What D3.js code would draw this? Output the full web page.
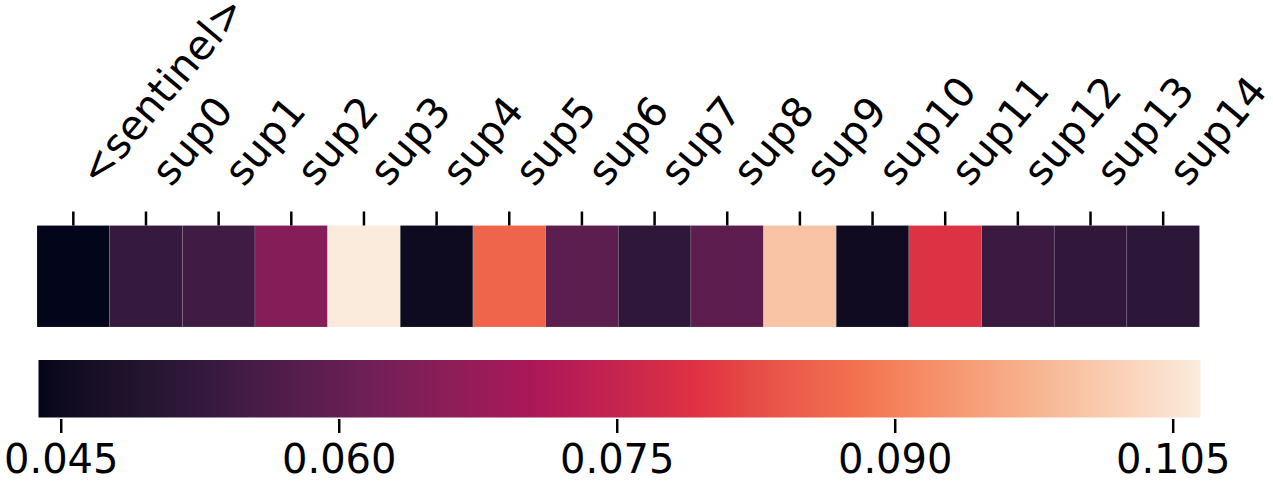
<!DOCTYPE html>
<html>
<head>
<meta charset="utf-8">
<script src="https://cdn.jsdelivr.net/npm/d3@7"></script>
<style>
  html, body { margin: 0; padding: 0; background: #fff; }
  svg text { font-family: "DejaVu Sans", sans-serif; fill: #000; }
</style>
</head>
<body>
<div id="chart"></div>
<script>
// data
const labels = ["<sentinel>", "sup0", "sup1", "sup2", "sup3", "sup4", "sup5", "sup6",
                "sup7", "sup8", "sup9", "sup10", "sup11", "sup12", "sup13", "sup14"];
const values = [0.0438, 0.0529, 0.0545, 0.0649, 0.1065, 0.0451, 0.0859, 0.0587,
                0.0515, 0.0589, 0.1001, 0.0454, 0.0789, 0.0535, 0.0520, 0.0513];
const cbarTicks = [0.045, 0.060, 0.075, 0.090, 0.105];

// seaborn "rocket" colormap, approximated by stops
const rocketPos = [0, 0.143, 0.286, 0.429, 0.571, 0.714, 0.857, 1];
const rocketCol = ["#03051a", "#35193e", "#701f57", "#ad1759", "#e13342", "#f37651", "#f6b48f", "#faebdd"];

const W = 1273, H = 484;
const svg = d3.select("#chart").append("svg")
    .attr("width", W)
    .attr("height", H);

const vmin = d3.min(values), vmax = d3.max(values);

const rocket = d3.scaleLinear()
    .domain(rocketPos)
    .range(rocketCol)
    .interpolate(d3.interpolateLab);
const color = v => rocket((v - vmin) / (vmax - vmin));

// heatmap row
const x = d3.scaleBand()
    .domain(labels)
    .range([37, 1199.5])
    .padding(0);
const hmTop = 225.5, hmBottom = 327;

svg.append("g")
  .selectAll("rect")
  .data(labels)
  .join("rect")
    .attr("x", d => x(d))
    .attr("y", hmTop)
    .attr("width", x.bandwidth())
    .attr("height", hmBottom - hmTop)
    .attr("fill", (d, i) => color(values[i]))
    .attr("stroke", "rgba(255,255,255,0.22)")
    .attr("stroke-width", 0.6);

// top axis with rotated labels
const xAxis = svg.append("g")
    .attr("transform", `translate(0,${hmTop})`)
    .call(d3.axisTop(x).tickSize(14).tickSizeOuter(0));
xAxis.select(".domain").remove();
xAxis.selectAll(".tick line").attr("stroke", "#000").attr("stroke-width", 2.5);
xAxis.selectAll(".tick text")
    .attr("font-size", 41)
    .attr("text-anchor", "start")
    .attr("x", 0).attr("y", 0).attr("dy", null)
    .attr("transform", `translate(25,${188 - hmTop}) rotate(-50)`);

// colorbar
const cx = d3.scaleLinear()
    .domain([vmin, vmax])
    .range([38.5, 1200.5]);
const cTop = 360, cBottom = 417.5;

const grad = svg.append("defs").append("linearGradient")
    .attr("id", "cbar")
    .attr("x1", "0%").attr("x2", "100%")
    .attr("y1", "0%").attr("y2", "0%");
grad.selectAll("stop")
  .data(d3.range(0, 1.0001, 1 / 64))
  .join("stop")
    .attr("offset", t => (t * 100) + "%")
    .attr("stop-color", t => rocket(t));

svg.append("rect")
    .attr("x", cx(vmin))
    .attr("y", cTop)
    .attr("width", cx(vmax) - cx(vmin))
    .attr("height", cBottom - cTop)
    .attr("fill", "url(#cbar)");

const cAxis = svg.append("g")
    .attr("transform", `translate(0,${cBottom + 1.5})`)
    .call(d3.axisBottom(cx).tickValues(cbarTicks).tickFormat(d3.format(".3f"))
            .tickSize(14).tickPadding(12));
cAxis.select(".domain").remove();
cAxis.selectAll(".tick line").attr("stroke", "#000").attr("stroke-width", 2.5);
cAxis.selectAll(".tick text").attr("font-size", 40);
</script>
</body>
</html>
